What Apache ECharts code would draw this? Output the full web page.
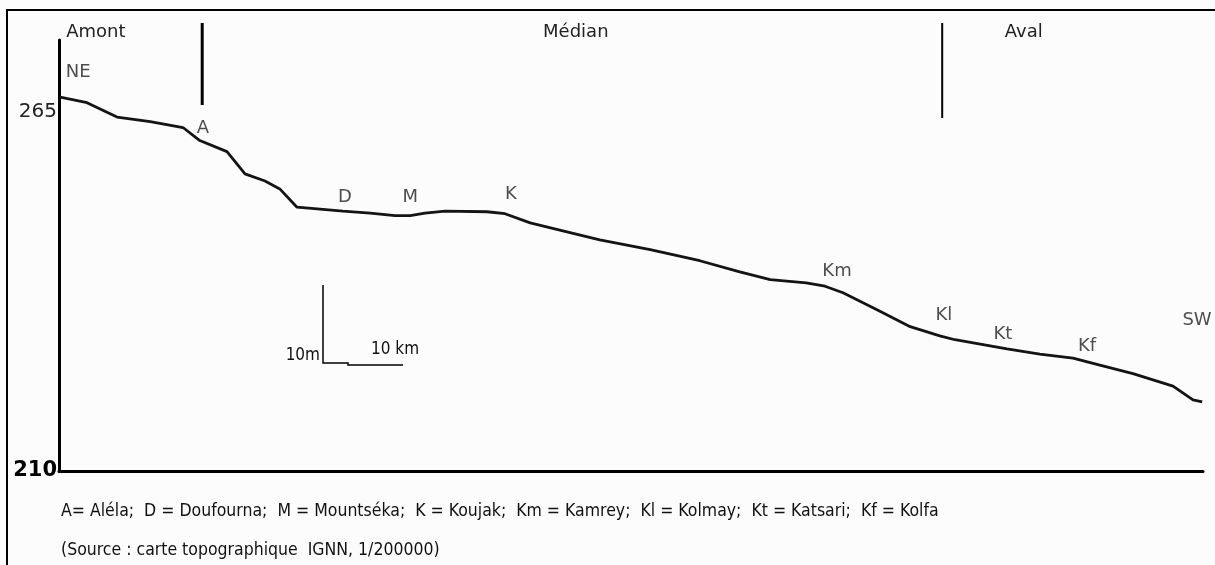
<!DOCTYPE html>
<html>
<head>
<meta charset="utf-8">
<script src="https://cdn.jsdelivr.net/npm/echarts@6/dist/echarts.min.js"></script>
<style>
  html, body { margin: 0; padding: 0; background: #fcfcfc; }
  #chart { width: 1215px; height: 565px; }
</style>
</head>
<body>
<div id="chart"></div>
<script>
// Longitudinal profile: distance along the valley (km) vs. elevation (m)
const profileKm = [0, 3.5, 7.25, 11.4, 15.5, 17.6, 21.0, 23.25, 25.75, 27.6, 29.75, 35.5, 38.9, 42.0, 43.9,
  45.75, 48.25, 53.5, 55.75, 58.9, 62.6, 67.6, 73.9, 80.1, 85.1, 88.9, 93.4, 95.75, 98.0, 102.25,
  106.4, 110.1, 112.0, 118.5, 122.6, 126.75, 130.1, 134.25, 139.25, 141.75, 142.9];
const profileElev = [267.3, 266.4, 264.2, 263.5, 262.6, 260.6, 258.9, 255.5, 254.4, 253.2, 250.4, 249.8, 249.5, 249.1, 249.1,
  249.5, 249.8, 249.7, 249.4, 248.0, 246.9, 245.4, 243.9, 242.2, 240.5, 239.3, 238.8, 238.3, 237.3, 234.7,
  232.1, 230.7, 230.1, 228.7, 227.9, 227.3, 226.2, 224.9, 223.0, 220.9, 220.6];

// Place names along the profile (label positions in km / m)
const stationNames = ['NE', 'A', 'D', 'M', 'K', 'Km', 'Kl', 'Kt', 'Kf', 'SW'];
const stationKm    = [2.4, 18.0, 35.75, 43.9, 56.5, 97.25, 110.6, 118.0, 128.5, 142.25];
const stationElev  = [271.1, 262.55, 251.98, 251.98, 252.3, 240.6, 233.9, 231.0, 229.15, 233.1];

// Reaches of the valley and their boundaries (km)
const reachNames = ['Amont', 'Médian', 'Aval'];
const reachLabelKm = [0.9, 64.6, 120.6];
const reachBounds = [17.9, 110.4];

const yTickLabels = [210, 265];
const legendText = 'A= Aléla;  D = Doufourna;  M = Mountséka;  K = Koujak;  Km = Kamrey;  Kl = Kolmay;  Kt = Katsari;  Kf = Kolfa';
const sourceText = '(Source : carte topographique  IGNN, 1/200000)';

const FONT = 'DejaVu Sans';
const NARROW = '"DejaVu Sans Condensed", "Liberation Sans Narrow", "DejaVu Sans"';
const chart = echarts.init(document.getElementById('chart'));

const option = {
  backgroundColor: '#fcfcfc',
  animation: false,
  grid: { left: 59, right: 12, top: 40, bottom: 94 },
  xAxis: {
    type: 'value', min: 0, max: 143,
    axisLine: { show: true, lineStyle: { color: '#000', width: 3 } },
    axisTick: { show: false }, axisLabel: { show: false }, splitLine: { show: false }
  },
  yAxis: {
    type: 'value', min: 210, max: 276,
    axisLine: { show: true, lineStyle: { color: '#000', width: 3 } },
    axisTick: { show: false }, splitLine: { show: false },
    axisLabel: {
      customValues: yTickLabels,
      margin: 2,
      formatter: v => (v === 210 ? '{b|' + v + '}' : '{n|' + v + '}'),
      rich: {
        b: { fontFamily: FONT, fontWeight: 'bold', fontSize: 21, color: '#000' },
        n: { fontFamily: FONT, fontSize: 20, color: '#222' }
      }
    }
  },
  series: [
    {
      type: 'line',
      data: profileKm.map((k, i) => [k, profileElev[i]]),
      showSymbol: false,
      lineStyle: { color: '#141414', width: 2.8 },
      z: 3
    },
    {
      type: 'scatter',
      data: stationKm.map((k, i) => ({ value: [k, stationElev[i]], name: stationNames[i] })),
      symbolSize: 0,
      label: {
        show: true, position: 'inside', formatter: p => p.name,
        fontFamily: FONT, fontSize: 18, color: '#222'
      },
      silent: true,
      z: 4
    }
  ]
};
chart.setOption(option);

function px(km) { return chart.convertToPixel({ xAxisIndex: 0 }, km); }

const headFont = '18px "' + FONT + '"';
const graphics = [
  // outer frame
  { type: 'polyline', shape: { points: [[7, 565], [7, 10], [1215, 10]] }, style: { stroke: '#000', lineWidth: 2, fill: null } },
  // reach boundaries
  { type: 'line', shape: { x1: px(reachBounds[0]), y1: 23, x2: px(reachBounds[0]), y2: 105 }, style: { stroke: '#000', lineWidth: 3 } },
  { type: 'line', shape: { x1: px(reachBounds[1]), y1: 23, x2: px(reachBounds[1]), y2: 118 }, style: { stroke: '#000', lineWidth: 2 } },
  // reach names
  { type: 'text', x: px(reachLabelKm[0]), y: 32, style: { text: reachNames[0], font: headFont, fill: '#222', align: 'left', verticalAlign: 'middle' } },
  { type: 'text', x: px(reachLabelKm[1]), y: 32, style: { text: reachNames[1], font: headFont, fill: '#222', align: 'center', verticalAlign: 'middle' } },
  { type: 'text', x: px(reachLabelKm[2]), y: 32, style: { text: reachNames[2], font: headFont, fill: '#222', align: 'center', verticalAlign: 'middle' } },
  // scale bar
  { type: 'polyline', shape: { points: [[323, 285], [323, 363], [348, 363], [348, 365], [403, 365]] }, style: { stroke: '#000', lineWidth: 1.5, fill: null } },
  { type: 'text', x: 320, y: 356, style: { text: '10m', font: '17px ' + NARROW, fill: '#111', align: 'right', verticalAlign: 'middle' } },
  { type: 'text', x: 371, y: 350, style: { text: '10 km', font: '17px ' + NARROW, fill: '#111', align: 'left', verticalAlign: 'middle' } },
  // key and source
  { type: 'text', x: 61, y: 511, style: { text: legendText, font: '17.5px ' + NARROW, fill: '#111', align: 'left', verticalAlign: 'middle' } },
  { type: 'text', x: 61, y: 550, style: { text: sourceText, font: '17.5px ' + NARROW, fill: '#111', align: 'left', verticalAlign: 'middle' } }
];
chart.setOption({ graphic: graphics });
</script>
</body>
</html>
